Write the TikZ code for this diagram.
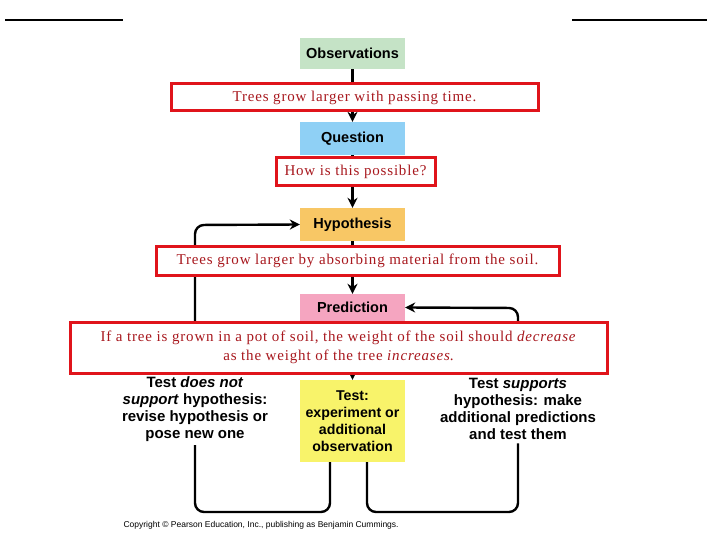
\documentclass[tikz,border=0pt]{standalone}
\usepackage{fontspec}
\setsansfont{Liberation Sans}
\setmainfont{Liberation Serif}
\newfontfamily\notefont[LetterSpace=5.5]{Liberation Serif}
\usetikzlibrary{arrows.meta}
\definecolor{obs}{HTML}{C5E3C6}
\definecolor{que}{HTML}{8FD0F5}
\definecolor{hyp}{HTML}{F8C765}
\definecolor{pre}{HTML}{F5A5C0}
\definecolor{tst}{HTML}{F8F36A}
\definecolor{rbox}{HTML}{E0141B}
\definecolor{rtxt}{HTML}{A8181E}
\begin{document}
\begin{tikzpicture}[x=1pt,y=-1pt,
  stage/.style={draw=none,minimum width=105pt,font=\sffamily\bfseries\fontsize{14.5}{15}\selectfont,align=center},
  note/.style={draw=rbox,line width=3pt,fill=white,font=\notefont\fontsize{15}{19}\selectfont,text=rtxt,align=center,inner sep=0pt},
  side/.style={font=\sffamily\bfseries\fontsize{15}{17}\selectfont,align=center},
  flow/.style={line width=2.4pt,rounded corners=9pt},
  tip/.style={-{Stealth[length=10pt,width=10pt]}}]
\useasboundingbox (0,0) rectangle (720,540);
\draw[line width=1.5pt] (5,20) -- (123,20) (572,20) -- (707,20);
\node[stage,fill=obs,minimum height=31pt] (obs) at (352.5,53.5) {Observations};
\node[stage,fill=que,minimum height=33pt] (que) at (352.5,138.5) {Question};
\node[stage,fill=hyp,minimum height=33pt] (hyp) at (352.5,224.5) {Hypothesis};
\node[stage,fill=pre,minimum height=27pt] (pre) at (352.5,307.5) {Prediction};
\node[stage,fill=tst,minimum height=82pt,inner xsep=1pt,font=\sffamily\bfseries\fontsize{14.2}{17}\selectfont] (tst) at (352.5,421) {Test:\\experiment or\\additional\\observation};
\node[side] (lt) at (195,409) {Test \textit{does not}\\\textit{support} hypothesis:\\revise hypothesis or\\pose new one};
\node[side] (rt) at (518,409) {Test \textit{supports}\\hypothesis: make\\additional predictions\\and test them};
\coordinate (l1) at (195,225); \coordinate (l2) at (195,512); \coordinate (l3) at (330,512);
\coordinate (r1) at (518,308); \coordinate (r2) at (518,512); \coordinate (r3) at (367,512);
\draw[line width=2.4pt,tip] (obs) -- (que);
\draw[line width=2.4pt,tip] (que) -- (hyp);
\draw[line width=2.4pt,tip] (hyp) -- (pre);
\draw[line width=2.4pt,tip] (pre) -- (tst);
\draw[flow,tip] (lt.north -| l1) -- (l1) -- (hyp.west);
\draw[flow,tip] (lt.north -| r1) -- (r1) -- (pre.east);
\draw[flow] (tst.south -| l3) -- (l3) -- (l2) -- (lt.south -| l2);
\draw[flow] (tst.south -| r3) -- (r3) -- (r2) -- (rt.south -| r2);
\node[note,minimum width=367pt,minimum height=27pt] (n1) at (354.5,97.5) {Trees grow larger with passing time.};
\node[note,minimum width=159pt,minimum height=28pt] (n2) at (355.5,172) {How is this possible?};
\node[note,minimum width=403pt,minimum height=29pt] (n3) at (357.5,260.5) {Trees grow larger by absorbing material from the soil.};
\node[note,minimum width=537pt,minimum height=51pt] (n4) at (338.5,347.5) {If a tree is grown in a pot of soil, the weight of the soil should \textit{decrease}\\as the weight of the tree \textit{increases}.};
\node[font=\sffamily\fontsize{8.5}{9}\selectfont,anchor=west] (cp) at (120,525) {Copyright \textcopyright{} Pearson Education, Inc., publishing as Benjamin Cummings.};
\end{tikzpicture}
\end{document}
